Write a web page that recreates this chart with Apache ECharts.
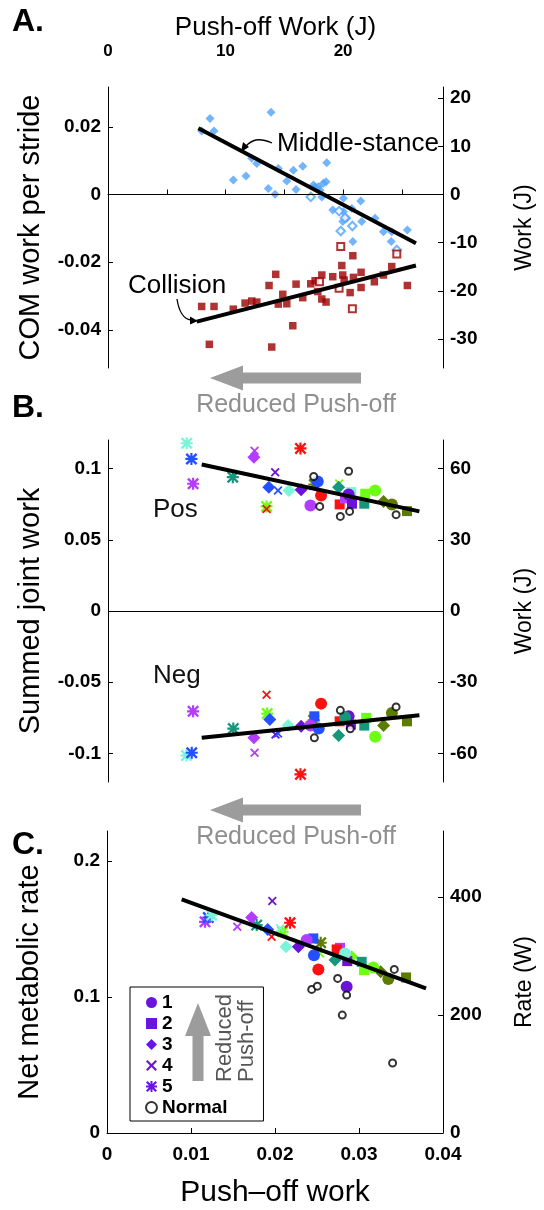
<!DOCTYPE html>
<html>
<head>
<meta charset="utf-8" />
<title>Push-off work</title>
<script src="https://cdn.jsdelivr.net/npm/echarts@6/dist/echarts.min.js"></script>
<style>
  body { margin: 0; padding: 0; background: #fff; }
  #main { width: 544px; height: 1210px; }
</style>
</head>
<body>
<div id="main"></div>
<script type="text/javascript">
// ---- panel A : push-off work (J) vs COM work per stride ----
var midStance = [[8.68,0.0225],[13.87,0.0243],[9.02,0.0188],[7.97,0.0188],[12.23,0.0107],[12.66,0.0092],[10.66,0.0043],[11.74,0.0055],[14.49,0.0077],[15.21,0.0040],[15.77,0.0072],[16.57,0.0084],[18.61,0.0094],[13.64,0.0018],[14.21,0.0001],[16.0,0.0015],[17.47,0.0028],[17.62,0.0023],[17.9,0.0023],[18.04,0.0013],[18.32,0.0033],[18.55,0.0038],[18.19,-0.0007],[20.03,-0.0011],[21.5,-0.0019],[19.12,-0.0046],[20.03,-0.0051],[20.74,-0.0041],[20.31,-0.0070],[19.97,-0.0080],[21.59,-0.0080],[22.72,-0.0070],[23.43,-0.0110],[24.14,-0.0110],[24.09,-0.0139],[25.47,-0.0105],[20.83,-0.0139]];
var midStanceOpen = [[17.25,-0.0007],[19.66,-0.0049],[20.17,-0.0069],[19.8,-0.0108],[20.79,-0.0093],[24.57,-0.0164]];
var collision = [[7.97,-0.0331],[9.02,-0.0331],[10.66,-0.0339],[8.62,-0.0443],[13.93,-0.0451],[15.72,-0.0388],[11.66,-0.0321],[12.23,-0.0315],[12.66,-0.0318],[13.7,-0.0269],[14.27,-0.0236],[14.49,-0.0324],[14.87,-0.0295],[15.21,-0.0323],[16.0,-0.0265],[16.57,-0.0305],[17.25,-0.0264],[17.62,-0.0255],[18.19,-0.0238],[17.85,-0.0287],[18.19,-0.0309],[18.55,-0.0318],[19.12,-0.0243],[19.89,-0.0210],[19.97,-0.0238],[20.09,-0.0253],[20.83,-0.0181],[20.88,-0.0245],[20.6,-0.0290],[21.53,-0.0230],[21.53,-0.0275],[22.66,-0.0258],[23.43,-0.0238],[24.14,-0.0213],[25.47,-0.0269]];
var collisionOpen = [[19.8,-0.0154],[17.99,-0.0258],[19.66,-0.0277],[20.79,-0.0338],[24.57,-0.0176]];
var midStanceFit = [[7.69,0.0196],[26.2,-0.0144]];
var collisionFit = [[7.55,-0.0376],[26.2,-0.0210]];

// ---- panels B and C : [push-off work, value, subject] ----
// subjects: 0 aqua, 1 blue, 2 violet, 3 indigo, 4 red, 5 green, 6 teal, 7 olive
var pos1 = [[0.02504,0.0909,1],[0.02544,0.0811,4],[0.02417,0.0741,2],[0.02873,0.0818,3],[0.0319,0.0846,5],[0.0339,0.0748,7]];
var pos2 = [[0.02766,0.0748,4],[0.02905,0.0834,0],[0.0283,0.0790,2],[0.02913,0.0753,3],[0.03071,0.0823,5],[0.0306,0.0753,6],[0.0357,0.0701,7]];
var pos3 = [[0.01742,0.1079,2],[0.0192,0.0869,1],[0.0216,0.0846,0],[0.02306,0.0851,3],[0.02754,0.0869,6],[0.0329,0.0769,7]];
var pos4 = [[0.0175,0.1125,2],[0.01996,0.0974,3],[0.0203,0.0846,1],[0.01893,0.0715,4],[0.0276,0.0895,5]];
var pos5 = [[0.0094,0.1177,0],[0.00996,0.1067,1],[0.01016,0.0893,2],[0.02298,0.1141,4],[0.0149,0.0939,6],[0.02464,0.0888,7],[0.01893,0.0734,5]];
var posNormal = [[0.02456,0.0944],[0.02873,0.0981],[0.02528,0.0734],[0.02774,0.0664],[0.02885,0.0699],[0.0344,0.0676]];
var posFit = [[0.01119,0.1028],[0.03718,0.0699]];

var neg1 = [[0.02544,-0.0650,4],[0.02417,-0.0804,2],[0.02516,-0.0825,1],[0.02873,-0.0739,3],[0.0319,-0.0883,5],[0.0339,-0.0715,7],[0.0283,-0.0745,6]];
var neg2 = [[0.02464,-0.0739,1],[0.02766,-0.0774,4],[0.029,-0.0797,3],[0.03083,-0.0750,5],[0.0306,-0.0804,6],[0.0357,-0.0774,7]];
var neg3 = [[0.01932,-0.0762,1],[0.01742,-0.0890,2],[0.0215,-0.0804,0],[0.02306,-0.0809,3],[0.02754,-0.0874,6],[0.0329,-0.0804,7]];
var neg4 = [[0.01893,-0.0587,4],[0.0175,-0.0995,2],[0.0200,-0.0867,3],[0.0203,-0.0860,1]];
var neg5 = [[0.01016,-0.0704,2],[0.00937,-0.1014,0],[0.0100,-0.0995,1],[0.01496,-0.0825,6],[0.01901,-0.0720,5],[0.02298,-0.1146,4],[0.02456,-0.0767,7]];
var negNormal = [[0.02464,-0.0890],[0.02774,-0.0697],[0.02893,-0.0827],[0.0344,-0.0673]];
var negFit = [[0.01119,-0.0890],[0.03718,-0.0732]];

var met1 = [[0.02377,0.1419,2],[0.02464,0.1308,1],[0.02516,0.1203,4],[0.02853,0.1075,3],[0.02833,0.1321,0],[0.0317,0.1218,5],[0.03349,0.1132,7]];
var met2 = [[0.02456,0.1431,1],[0.02774,0.1362,2],[0.02734,0.1350,4],[0.0286,0.1264,3],[0.03032,0.1259,6],[0.0306,0.1198,5],[0.0356,0.1144,7]];
var met3 = [[0.01722,0.1585,2],[0.01913,0.1497,1],[0.02131,0.1369,0],[0.02278,0.1369,3],[0.02714,0.1272,6],[0.02913,0.1296,5],[0.03258,0.1186,7]];
var met4 = [[0.01968,0.1707,3],[0.01551,0.1516,2],[0.0196,0.1443,4],[0.0206,0.1505,0],[0.02536,0.1321,5]];
var met5 = [[0.01167,0.1553,2],[0.01206,0.1585,1],[0.01246,0.1602,0],[0.01782,0.1529,6],[0.0209,0.1480,5],[0.02179,0.1546,4],[0.02544,0.1399,7]];
var metNormal = [[0.02437,0.1056],[0.02504,0.1080],[0.02746,0.1137],[0.02801,0.0867],[0.02853,0.1014],[0.0342,0.1203],[0.0340,0.0515]];
var metFit = [[0.00889,0.1718],[0.03798,0.1064]];

var condNames = ['1', '2', '3', '4', '5', 'Normal'];

// ---- styles ----
var FONT = 'Liberation Sans, Arial, sans-serif';
var subjectColors = ['#7af5d8', '#2450ff', '#b43cff', '#6a12d8', '#ff1010', '#6cff10', '#16967a', '#5c7c00'];
var legendPurple = '#6a14e0';
var xPath = 'path://M1.4,0L5,3.6L8.6,0L10,1.4L6.4,5L10,8.6L8.6,10L5,6.4L1.4,10L0,8.6L3.6,5L0,1.4Z';
var starPath = 'path://M0,4.1H10V5.9H0Z M4.1,0H5.9V10H4.1Z M1.4,0L5,3.6L8.6,0L10,1.4L6.4,5L10,8.6L8.6,10L5,6.4L1.4,10L0,8.6L3.6,5L0,1.4Z';
var condSymbols = ['circle', 'rect', 'diamond', xPath, starPath, 'emptyCircle'];
var condSizes = [12, 10, 13, 9, 12, 7];

function fmt(v) { return String(Math.round(v * 1000) / 1000); }

function yAxisCfg(grid, min, max, ticks, name, gap, right) {
  return {
    type: 'value', gridIndex: grid, min: min, max: max,
    position: right ? 'right' : 'left',
    name: name, nameLocation: 'middle', nameGap: gap,
    nameTextStyle: { fontFamily: FONT, fontSize: right ? 23 : 29, color: '#000' },
    splitLine: { show: false },
    axisLine: { show: true, lineStyle: { color: '#000', width: 1 } },
    axisTick: { show: true, inside: true, length: 5, customValues: ticks, lineStyle: { color: '#000' } },
    axisLabel: { customValues: ticks, formatter: fmt, margin: 7, fontFamily: FONT, fontSize: 19, fontWeight: 'bold', color: '#000' }
  };
}

function condSeries(i, pts, xi, yi, withZero) {
  var normal = i === 5;
  var s = {
    type: 'scatter', name: condNames[i], xAxisIndex: xi, yAxisIndex: yi,
    symbol: condSymbols[i], symbolSize: condSizes[i],
    itemStyle: normal ? { color: '#000', borderWidth: 1 } : { color: legendPurple, opacity: 1 },
    emphasis: { disabled: true },
    z: 3,
    data: pts.map(function (p) {
      if (normal) return { value: [p[0], p[1]] };
      return { value: [p[0], p[1]], itemStyle: { color: subjectColors[p[2]] } };
    })
  };
  if (withZero) s.markLine = zeroLine();
  return s;
}

function fitSeries(pts, xi, yi) {
  return {
    type: 'line', xAxisIndex: xi, yAxisIndex: yi, data: pts, symbol: 'none',
    lineStyle: { color: '#000', width: 4 }, z: 5, silent: true
  };
}

function zeroLine() {
  return { silent: true, symbol: 'none', label: { show: false },
    lineStyle: { color: '#000', width: 1, type: 'solid' }, data: [{ yAxis: 0 }] };
}

var aMin = -0.0513, aMax = 0.0318, aJ = 701.5;
var bMin = -0.12, bMax = 0.12, bJ = 600;
var cMin = 0, cMax = 0.2221, cW = 2305;

var series = [
  { type: 'scatter', name: 'Middle-stance', xAxisIndex: 0, yAxisIndex: 0, symbol: 'diamond', symbolSize: 9,
    itemStyle: { color: '#4fa3fb' }, data: midStance, markLine: zeroLine(), z: 3 },
  { type: 'scatter', name: 'Middle-stance open', xAxisIndex: 0, yAxisIndex: 0, symbol: 'emptyDiamond', symbolSize: 8.5,
    itemStyle: { color: '#4fa3fb', borderWidth: 1.5 }, data: midStanceOpen, z: 3 },
  { type: 'scatter', name: 'Collision', xAxisIndex: 0, yAxisIndex: 0, symbol: 'rect', symbolSize: 7.5,
    itemStyle: { color: '#9c0000' }, data: collision, z: 3 },
  { type: 'scatter', name: 'Collision open', xAxisIndex: 0, yAxisIndex: 0, symbol: 'emptyRect', symbolSize: 7,
    itemStyle: { color: '#9c0000', borderWidth: 1.4 }, data: collisionOpen, z: 3 },
  fitSeries(midStanceFit, 0, 0),
  fitSeries(collisionFit, 0, 0)
];
var sets = [
  [[pos1, pos2, pos3, pos4, pos5, posNormal], 1, 2, true],
  [[neg1, neg2, neg3, neg4, neg5, negNormal], 1, 2, false],
  [[met1, met2, met3, met4, met5, metNormal], 2, 4, false]
];
sets.forEach(function (s) {
  for (var i = 4; i >= 0; i--) series.push(condSeries(i, s[0][i], s[1], s[2], s[3] && i === 4));
  series.push(condSeries(5, s[0][5], s[1], s[2], false));
});
series.push(fitSeries(posFit, 1, 2));
series.push(fitSeries(negFit, 1, 2));
series.push(fitSeries(metFit, 2, 4));

var grayArrow = '#9c9c9c';
function hArrow(cy) {
  return { type: 'polygon', silent: true, shape: { points: [[210, cy], [243, cy - 12.5], [243, cy - 5.5], [361, cy - 5.5], [361, cy + 5.5], [243, cy + 5.5], [243, cy + 12.5]] }, style: { fill: grayArrow } };
}
function gText(x, y, txt, size, opts) {
  var st = { text: txt, fontFamily: FONT, fontSize: size, fill: '#000', textAlign: 'left', textVerticalAlign: 'middle' };
  for (var k in opts) st[k] = opts[k];
  return { type: 'text', x: x, y: y, silent: true, style: st };
}

var mychart = echarts.init(document.getElementById('main'), null, { renderer: 'canvas' });
mychart.setOption({
  animation: false,
  backgroundColor: '#fff',
  grid: [
    { left: 108, width: 335, top: 87, height: 281 },
    { left: 108, width: 335, top: 440, height: 342 },
    { left: 107, width: 336, top: 831, height: 302 }
  ],
  xAxis: [
    { type: 'value', gridIndex: 0, min: 0, max: 28.5, position: 'top', offset: 21,
      name: 'Push-off Work (J)', nameLocation: 'middle', nameGap: 25,
      nameTextStyle: { fontFamily: FONT, fontSize: 26, color: '#000' },
      splitLine: { show: false },
      axisLine: { lineStyle: { color: '#000' } },
      axisTick: { length: 5, customValues: [0, 5, 10, 15, 20, 25], lineStyle: { color: '#000' } },
      axisLabel: { customValues: [0, 10, 20], margin: 6, fontFamily: FONT, fontSize: 17, fontWeight: 'bold', color: '#000' } },
    { type: 'value', gridIndex: 1, min: 0, max: 0.04, show: false, splitLine: { show: false } },
    { type: 'value', gridIndex: 2, min: 0, max: 0.04, interval: 0.01, position: 'bottom',
      name: 'Push\u2013off work', nameLocation: 'middle', nameGap: 45,
      nameTextStyle: { fontFamily: FONT, fontSize: 30, color: '#000' },
      splitLine: { show: false },
      axisLine: { lineStyle: { color: '#000' } },
      axisTick: { inside: true, length: 5, lineStyle: { color: '#000' } },
      axisLabel: { formatter: fmt, margin: 12, fontFamily: FONT, fontSize: 19, fontWeight: 'bold', color: '#000' } }
  ],
  yAxis: [
    yAxisCfg(0, aMin, aMax, [-0.04, -0.02, 0, 0.02], 'COM work per stride', 63, false),
    yAxisCfg(0, aMin * aJ, aMax * aJ, [-30, -20, -10, 0, 10, 20], 'Work (J)', 70, true),
    yAxisCfg(1, bMin, bMax, [-0.1, -0.05, 0, 0.05, 0.1], 'Summed joint work', 63, false),
    yAxisCfg(1, bMin * bJ, bMax * bJ, [-60, -30, 0, 30, 60], 'Work (J)', 70, true),
    yAxisCfg(2, cMin, cMax, [0, 0.1, 0.2], 'Net metabolic rate', 63, false),
    yAxisCfg(2, cMin * cW, cMax * cW, [0, 200, 400], 'Rate (W)', 70, true)
  ],
  legend: {
    data: condNames, orient: 'vertical', left: 130, top: 987,
    itemWidth: 11, itemHeight: 11, itemGap: 2,
    padding: [6, 36, 4, 15],
    borderColor: '#000', borderWidth: 1, backgroundColor: '#fff',
    selectedMode: false,
    textStyle: { fontFamily: FONT, fontSize: 19, fontWeight: 'bold', color: '#000' }
  },
  graphic: [
    gText(12, 22, 'A.', 32, { fontWeight: 'bold' }),
    gText(12, 408, 'B.', 32, { fontWeight: 'bold' }),
    gText(12, 845, 'C.', 32, { fontWeight: 'bold' }),
    gText(277, 144, 'Middle-stance', 26, {}),
    gText(128, 286, 'Collision', 26, {}),
    { type: 'bezierCurve', silent: true, shape: { x1: 272, y1: 143, cpx1: 258, cpy1: 137, cpx2: 252, cpy2: 140, x2: 246, y2: 146 }, style: { stroke: '#000', lineWidth: 1.3, fill: null } },
    { type: 'polygon', silent: true, shape: { points: [[241, 152], [249, 147], [243, 142]] }, style: { fill: '#000' } },
    { type: 'bezierCurve', silent: true, shape: { x1: 177, y1: 299, cpx1: 179, cpy1: 312, cpx2: 183, cpy2: 319, x2: 191, y2: 320 }, style: { stroke: '#000', lineWidth: 1.3, fill: null } },
    { type: 'polygon', silent: true, shape: { points: [[198, 321], [190, 316.5], [190, 324.5]] }, style: { fill: '#000' } },
    hArrow(378),
    gText(296, 405, 'Reduced Push-off', 25, { fill: '#8f8f8f', textAlign: 'center' }),
    hArrow(810),
    gText(296, 837, 'Reduced Push-off', 25, { fill: '#8f8f8f', textAlign: 'center' }),
    gText(153, 510, 'Pos', 26, { fill: '#111' }),
    gText(153, 676, 'Neg', 26, { fill: '#111' }),
    { type: 'polygon', silent: true, z: 100, shape: { points: [[198, 1003], [211, 1036], [203.5, 1036], [203.5, 1081], [192.5, 1081], [192.5, 1036], [185, 1036]] }, style: { fill: grayArrow } },
    { type: 'text', silent: true, z: 100, x: 214, y: 1082, rotation: Math.PI / 2,
      style: { text: 'Reduced\nPush-off', fontFamily: FONT, fontSize: 22, lineHeight: 22, fill: '#555', textAlign: 'left', textVerticalAlign: 'top' } }
  ],
  series: series
});
</script>
</body>
</html>
